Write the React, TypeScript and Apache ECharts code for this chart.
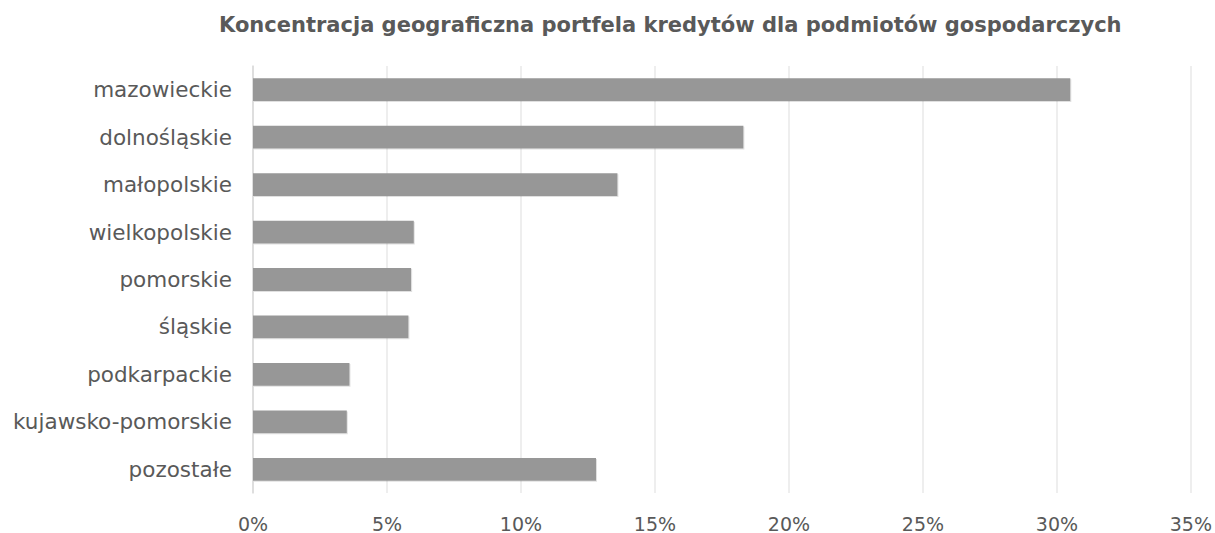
import React, { useEffect, useRef } from "react";
import * as echarts from "echarts";

const titleText = "Koncentracja geograficzna portfela kredytów dla podmiotów gospodarczych";
const categories = [
  "mazowieckie",
  "dolnośląskie",
  "małopolskie",
  "wielkopolskie",
  "pomorskie",
  "śląskie",
  "podkarpackie",
  "kujawsko-pomorskie",
  "pozostałe",
];
const values = [30.5, 18.3, 13.6, 6.0, 5.9, 5.8, 3.6, 3.5, 12.8];
const xTicks = [0, 5, 10, 15, 20, 25, 30, 35];

export default function App() {
  const ref = useRef<HTMLDivElement>(null);
  useEffect(() => {
    if (!ref.current) return;
    const chart = echarts.init(ref.current, null, { renderer: "svg" });
    chart.setOption({
      animation: false,
      backgroundColor: "#ffffff",
      textStyle: { fontFamily: "DejaVu Sans" },
      title: {
        text: titleText,
        left: 214,
        top: 9,
        textStyle: {
          fontFamily: "DejaVu Sans",
          fontWeight: "bold",
          fontSize: 21,
          color: "#595959",
        },
      },
      grid: { left: 253, right: 23, top: 66, bottom: 40, containLabel: false },
      xAxis: {
        type: "value",
        min: xTicks[0],
        max: xTicks[xTicks.length - 1],
        interval: 5,
        axisLine: { show: false },
        axisTick: { show: false },
        splitLine: { show: true, lineStyle: { color: "#e9e9e9", width: 1.5 } },
        axisLabel: {
          formatter: (v: number) => `${v}%`,
          fontSize: 19,
          color: "#595959",
          margin: 21,
          fontFamily: "DejaVu Sans",
        },
      },
      yAxis: {
        type: "category",
        data: categories,
        inverse: true,
        axisLine: { show: true, lineStyle: { color: "#d9d9d9", width: 1.5 } },
        axisTick: { show: false },
        axisLabel: {
          fontSize: 21.5,
          color: "#595959",
          margin: 21,
          fontFamily: "DejaVu Sans",
        },
      },
      series: [
        {
          type: "bar",
          data: values,
          barCategoryGap: "52%",
          itemStyle: {
            color: "#979797",
            shadowColor: "rgba(0,0,0,0.12)",
            shadowOffsetX: 1,
            shadowOffsetY: 1,
            shadowBlur: 1,
          },
        },
      ],
    });
    return () => chart.dispose();
  }, []);
  return (
    <div
      ref={ref}
      style={{ position: "fixed", left: 0, top: 0, width: 1215, height: 533 }}
    />
  );
}
